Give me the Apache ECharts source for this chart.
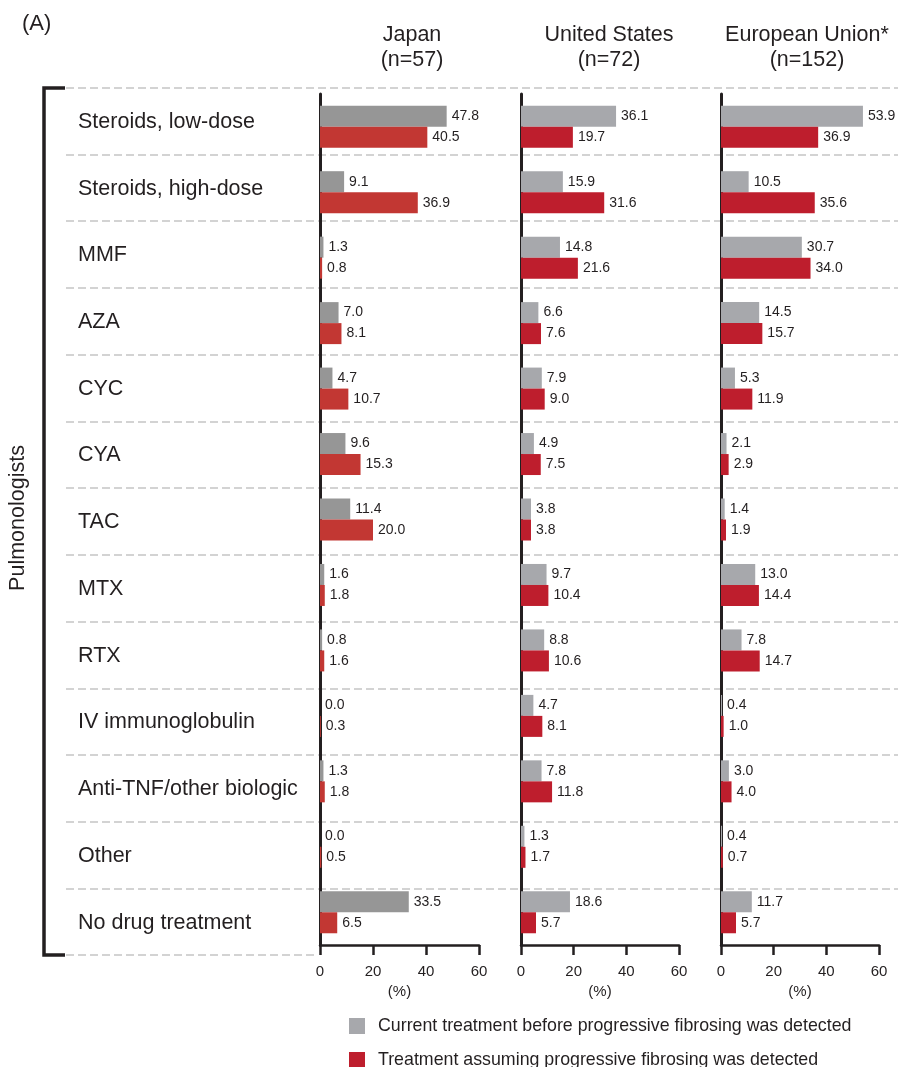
<!DOCTYPE html>
<html>
<head>
<meta charset="utf-8">
<script src="https://cdn.jsdelivr.net/npm/echarts@6/dist/echarts.min.js"></script>
<style>
  html, body { margin: 0; padding: 0; background: #ffffff; }
  #chart { width: 898px; height: 1067px; }
</style>
</head>
<body>
<div id="chart"></div>
<script>
// Treatment categories, top to bottom
const categories = [
  'Steroids, low-dose', 'Steroids, high-dose', 'MMF', 'AZA', 'CYC', 'CYA', 'TAC',
  'MTX', 'RTX', 'IV immunoglobulin', 'Anti-TNF/other biologic', 'Other', 'No drug treatment'
];

// Regions and respondent counts
const regions = ['Japan', 'United States', 'European Union*'];
const sampleSizes = [57, 72, 152];

// Percent of respondents per treatment
const japanCurrent  = [47.8, 9.1, 1.3, 7.0, 4.7, 9.6, 11.4, 1.6, 0.8, 0.0, 1.3, 0.0, 33.5];
const japanAssumed  = [40.5, 36.9, 0.8, 8.1, 10.7, 15.3, 20.0, 1.8, 1.6, 0.3, 1.8, 0.5, 6.5];
const usCurrent     = [36.1, 15.9, 14.8, 6.6, 7.9, 4.9, 3.8, 9.7, 8.8, 4.7, 7.8, 1.3, 18.6];
const usAssumed     = [19.7, 31.6, 21.6, 7.6, 9.0, 7.5, 3.8, 10.4, 10.6, 8.1, 11.8, 1.7, 5.7];
const euCurrent     = [53.9, 10.5, 30.7, 14.5, 5.3, 2.1, 1.4, 13.0, 7.8, 0.4, 3.0, 0.4, 11.7];
const euAssumed     = [36.9, 35.6, 34.0, 15.7, 11.9, 2.9, 1.9, 14.4, 14.7, 1.0, 4.0, 0.7, 5.7];

// Percent axis ticks
const axisMin = 0, axisMax = 60, axisStep = 20;

const seriesNames = [
  'Current treatment before progressive fibrosing was detected',
  'Treatment assuming progressive fibrosing was detected'
];

const currentByRegion = [japanCurrent, usCurrent, euCurrent];
const assumedByRegion = [japanAssumed, usAssumed, euAssumed];

const INK = '#231f20';
const FONT = '"Liberation Sans", Arial, Helvetica, sans-serif';
const GREY = '#a7a8ac', RED = '#be1e2d';
const panelColors = [
  ['#969696', '#c23733'],
  [GREY, RED],
  [GREY, RED]
];
const panelLeft = [320, 521, 721];
const panelWidth = [159, 158, 158];
const headerX = [412, 609, 807];
const SEP_COLOR = '#d3d3d3';

const chart = echarts.init(document.getElementById('chart'), null, { renderer: 'canvas' });

const grid = [
  { left: 66, right: 0, top: 87.5, height: 801 },          // row separators
  { left: 78, width: 10, top: 88.5, height: 867.5 },       // category labels
];
const xAxis = [
  { gridIndex: 0, type: 'value', show: false, min: 0, max: 1 },
  { gridIndex: 1, type: 'value', show: false, min: 0, max: 1 }
];
const yAxis = [
  {
    gridIndex: 0, type: 'value', min: 0, max: 12, interval: 1, inverse: true,
    axisLine: { show: false }, axisTick: { show: false }, axisLabel: { show: false },
    splitLine: { show: true, lineStyle: { color: SEP_COLOR, width: 2, type: [8, 4] } }
  },
  {
    gridIndex: 1, type: 'category', data: categories, inverse: true,
    axisLine: { show: false }, axisTick: { show: false }, splitLine: { show: false },
    axisLabel: { align: 'left', margin: 0, fontSize: 21.5, color: INK, fontFamily: FONT }
  }
];
const series = [
  // carrier series so the helper grids render their axes
  { type: 'line', xAxisIndex: 0, yAxisIndex: 0, data: [], silent: true },
  { type: 'line', xAxisIndex: 1, yAxisIndex: 1, data: [], silent: true }
];

regions.forEach((region, i) => {
  const gi = grid.length;
  grid.push({ left: panelLeft[i], width: panelWidth[i], top: 94, height: 851 });
  xAxis.push({
    gridIndex: gi, type: 'value', min: axisMin, max: axisMax, interval: axisStep,
    name: '(%)', nameLocation: 'middle', nameGap: 38,
    nameTextStyle: { fontSize: 15, color: INK, fontFamily: FONT },
    axisLine: { show: true, lineStyle: { color: INK, width: 2.5 } },
    axisTick: { show: true, inside: false, length: 10, lineStyle: { color: INK, width: 2.5 } },
    axisLabel: { fontSize: 15, color: INK, fontFamily: FONT, margin: 19 },
    splitLine: { show: false }
  });
  yAxis.push({
    gridIndex: gi, type: 'category', data: categories, inverse: true,
    axisLine: { show: true, lineStyle: { color: INK, width: 3 } },
    axisTick: { show: false }, axisLabel: { show: false }, splitLine: { show: false }
  });
  const label = {
    show: true, position: 'right', distance: 5, fontSize: 14, color: INK, fontFamily: FONT,
    formatter: p => Number(p.value).toFixed(1)
  };
  series.push({
    name: seriesNames[0], type: 'bar', xAxisIndex: gi, yAxisIndex: gi,
    data: currentByRegion[i], barWidth: 21, barGap: '0%',
    itemStyle: { color: panelColors[i][0] }, label: label, z: 3
  });
  series.push({
    name: seriesNames[1], type: 'bar', xAxisIndex: gi, yAxisIndex: gi,
    data: assumedByRegion[i], barWidth: 21, barGap: '0%',
    itemStyle: { color: panelColors[i][1] }, label: label, z: 3
  });
});

const legendBase = {
  orient: 'vertical', left: 349, padding: 0,
  itemWidth: 16, itemHeight: 16, icon: 'rect', selectedMode: false,
  textStyle: { fontSize: 17.8, color: INK, fontFamily: FONT, padding: [0, 0, 0, 8] }
};

const option = {
  animation: false,
  backgroundColor: '#ffffff',
  textStyle: { fontFamily: FONT },
  title: regions.map((r, i) => ({
    text: r + '\n(n=' + sampleSizes[i] + ')',
    left: headerX[i], top: 23, padding: 0, textAlign: 'center',
    textStyle: { fontSize: 21.5, fontWeight: 'normal', color: INK, lineHeight: 25, fontFamily: FONT }
  })),
  legend: [
    Object.assign({}, legendBase, {
      top: 1017, data: [{ name: seriesNames[0], itemStyle: { color: GREY } }]
    }),
    Object.assign({}, legendBase, {
      top: 1051, data: [{ name: seriesNames[1], itemStyle: { color: RED } }]
    })
  ],
  grid: grid,
  xAxis: xAxis,
  yAxis: yAxis,
  series: series,
  graphic: [
    { // panel tag
      type: 'text', x: 22, y: 24,
      style: { text: '(A)', fontSize: 22, fill: INK, fontFamily: FONT, verticalAlign: 'middle' }
    },
    { // respondent group bracket
      type: 'polyline',
      shape: { points: [[65, 88], [44, 88], [44, 955], [65, 955]] },
      style: { stroke: INK, lineWidth: 3.5, fill: null }
    },
    { // closing separator below the last row
      type: 'line',
      shape: { x1: 66, y1: 955, x2: 314, y2: 955 },
      style: { stroke: SEP_COLOR, lineWidth: 2, lineDash: [8, 4] }
    },
    {
      type: 'text', x: 18, y: 518, rotation: Math.PI / 2,
      style: { text: 'Pulmonologists', fontSize: 21.5, fill: INK, fontFamily: FONT, align: 'center', verticalAlign: 'middle' }
    }
  ]
};

chart.setOption(option);
</script>
</body>
</html>
